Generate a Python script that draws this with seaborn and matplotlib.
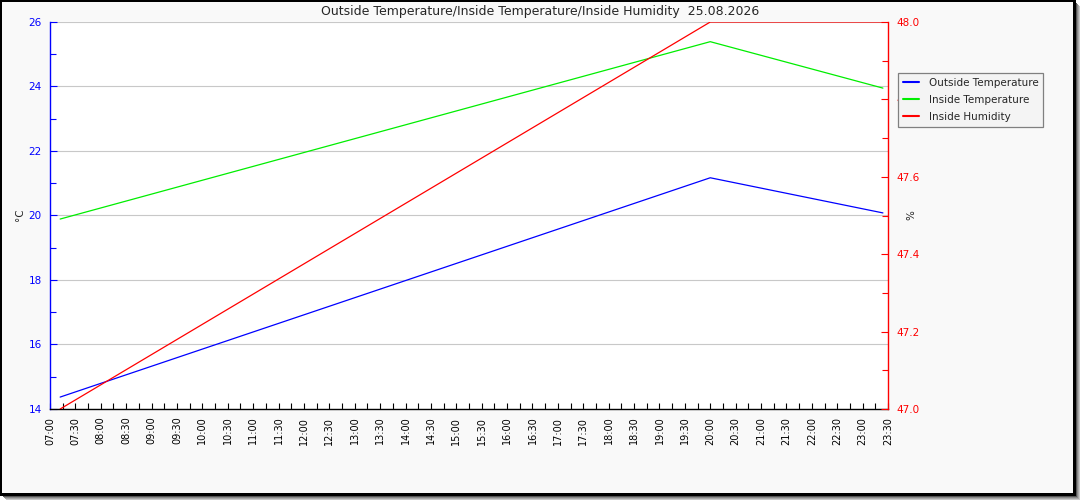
import matplotlib
matplotlib.use("Agg")
import matplotlib.pyplot as plt
import seaborn as sns
import pandas as pd
from matplotlib.patches import Rectangle
from matplotlib.ticker import MultipleLocator, FixedLocator, FormatStrFormatter

sns.set_style("white")
plt.rcParams['font.family'] = ['DejaVu Sans']

# ---- data ----
times = ["07:12", "20:00", "23:24"]
outside_temp = [14.37, 21.17, 20.08]
inside_temp = [19.89, 25.39, 23.95]
inside_humidity = [47.0, 48.0, 48.0]

tick_labels = ["07:00", "07:30", "08:00", "08:30", "09:00", "09:30", "10:00", "10:30",
               "11:00", "11:30", "12:00", "12:30", "13:00", "13:30", "14:00", "14:30",
               "15:00", "15:30", "16:00", "16:30", "17:00", "17:30", "18:00", "18:30",
               "19:00", "19:30", "20:00", "20:30", "21:00", "21:30", "22:00", "22:30",
               "23:00", "23:30"]
title = "Outside Temperature/Inside Temperature/Inside Humidity  25.08.2026"


def to_hours(s):
    h, m = s.split(":")
    return int(h) + int(m) / 60.0


df = pd.DataFrame({
    "t": [to_hours(s) for s in times],
    "out": outside_temp,
    "in": inside_temp,
    "hum": inside_humidity,
})
tick_pos = [to_hours(s) for s in tick_labels]

W, H = 1080, 500
fig = plt.figure(figsize=(W / 100, H / 100), dpi=100)
fig.patch.set_facecolor("white")


def px_rect(x0, y0, x1, y1, **kw):
    # pixel coords with origin at top-left
    return Rectangle((x0 / W, 1 - y1 / H), (x1 - x0) / W, (y1 - y0) / H,
                     transform=fig.transFigure, **kw)


# gradient shadow + frame
for off, col in [(4, "#c8c8c8"), (3, "#a8a8a8"), (2, "#888888"), (1, "#555555")]:
    fig.patches.append(px_rect(off + 2, off + 2, 1076 + off, 496 + off,
                               facecolor=col, edgecolor="none", zorder=-10))
fig.patches.append(px_rect(0, 0, 1076, 496, facecolor="black", edgecolor="none", zorder=-9))
fig.patches.append(px_rect(1.5, 1.5, 1073, 493, facecolor="#f9f9f9", edgecolor="none", zorder=-8))

left, right, top, bottom = 50, 888, 22, 409
ax = fig.add_axes([left / W, 1 - bottom / H, (right - left) / W, (bottom - top) / H])
ax.set_facecolor("white")
ax2 = ax.twinx()

sns.lineplot(data=df, x="t", y="out", ax=ax, color="#0000ff", linewidth=0.9,
             label="Outside Temperature", legend=False)
sns.lineplot(data=df, x="t", y="in", ax=ax, color="#00ee00", linewidth=0.9,
             label="Inside Temperature", legend=False)
sns.lineplot(data=df, x="t", y="hum", ax=ax2, color="#ff0000", linewidth=0.9,
             label="Inside Humidity", legend=False)

ax.set_xlim(tick_pos[0], tick_pos[-1])
ax.set_ylim(14, 26)
ax2.set_ylim(47.0, 48.0)

ax.xaxis.set_major_locator(FixedLocator(tick_pos))
ax.set_xticklabels(tick_labels, rotation=90)
ax.xaxis.set_minor_locator(MultipleLocator(0.25))
ax.yaxis.set_major_locator(MultipleLocator(2))
ax.yaxis.set_minor_locator(MultipleLocator(1))
ax2.yaxis.set_major_locator(MultipleLocator(0.2))
ax2.yaxis.set_minor_locator(MultipleLocator(0.1))
ax2.yaxis.set_major_formatter(FormatStrFormatter("%.1f"))

ax.tick_params(axis="x", which="both", bottom=True, top=False, direction="in", length=4,
               width=0.8, color="black", labelsize=7, labelcolor="black", pad=5.5)
ax.tick_params(axis="y", which="both", left=True, right=False, direction="in", width=0.8,
               color="#0000ff", labelsize=7.5, labelcolor="#0000ff", pad=6)
ax.tick_params(axis="y", which="major", length=5)
ax.tick_params(axis="y", which="minor", length=4)
ax2.tick_params(axis="y", which="both", right=True, left=False, direction="in", width=0.8,
                color="#ff0000", labelsize=7.5, labelcolor="#ff0000", pad=6)
ax2.tick_params(axis="y", which="major", length=5)
ax2.tick_params(axis="y", which="minor", length=4)
ax2.tick_params(axis="x", which="both", bottom=False, top=False)

ax.grid(axis="y", which="major", color="#c8c8c8", linewidth=0.8)
ax.grid(axis="x", visible=False)
ax2.grid(False)
ax.set_axisbelow(True)

for a in (ax, ax2):
    a.spines["top"].set_visible(False)
ax.spines["right"].set_visible(False)
ax2.spines["left"].set_visible(False)
ax2.spines["bottom"].set_visible(False)
ax.spines["left"].set_color("#0000ff")
ax.spines["bottom"].set_color("black")
ax2.spines["right"].set_color("#ff0000")
for s in ("left", "bottom"):
    ax.spines[s].set_linewidth(1.0)
ax2.spines["right"].set_linewidth(1.0)

ax.set_xlabel("")
ax.set_ylabel("")
ax2.set_ylabel("")
fig.text(20 / W, 1 - 215 / H, "°C", rotation=90, ha="center", va="center", fontsize=7.5)
fig.text(911 / W, 1 - 215 / H, "%", rotation=90, ha="center", va="center", fontsize=7.5)
fig.text(0.5, 1 - 11 / H, title, ha="center", va="center", fontsize=9)

h1, l1 = ax.get_legend_handles_labels()
h2, l2 = ax2.get_legend_handles_labels()
leg = fig.legend(h1 + h2, l1 + l2, loc="upper left", bbox_to_anchor=(898 / W, 1 - 73 / H),
                 fontsize=7.5, frameon=True, fancybox=False, edgecolor="#808080",
                 facecolor="#f4f4f4", framealpha=1, handlelength=1.6, handletextpad=0.9,
                 borderpad=0.45, labelspacing=0.68, borderaxespad=0)
for line in leg.get_lines():
    line.set_linewidth(1.5)
leg.get_frame().set_linewidth(0.9)

fig.savefig("out.png", dpi=100, facecolor=fig.get_facecolor())
